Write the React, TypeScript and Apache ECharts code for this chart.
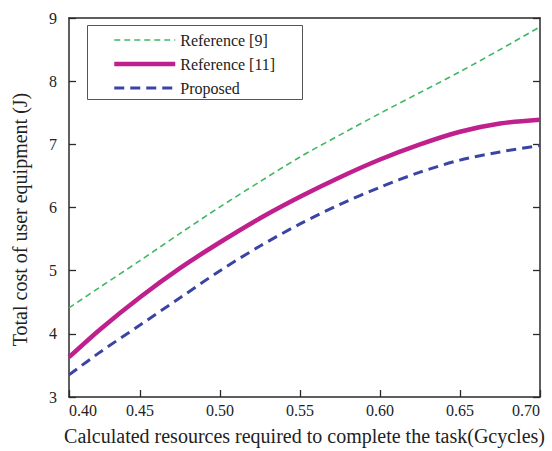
import React, { useEffect, useRef } from "react";
import * as echarts from "echarts";

// x positions (Gcycles); the axis starts slightly right of 0.40 in the source figure
const xMin = 0.4056;
const xValues = [0.4056, 0.425, 0.45, 0.475, 0.5, 0.525, 0.55, 0.575, 0.6, 0.625, 0.65, 0.675, 0.7];
const ref9 = [4.41, 4.74, 5.16, 5.59, 6.01, 6.41, 6.8, 7.15, 7.49, 7.82, 8.15, 8.5, 8.86];
const ref11 = [3.63, 4.07, 4.58, 5.04, 5.45, 5.83, 6.17, 6.48, 6.76, 7.0, 7.2, 7.33, 7.39];
const proposed = [3.35, 3.71, 4.14, 4.57, 5.0, 5.39, 5.74, 6.05, 6.32, 6.56, 6.75, 6.88, 6.98];
const seriesNames = ["Reference [9]", "Reference [11]", "Proposed"];
const xTickValues = [0.4056, 0.45, 0.5, 0.55, 0.6, 0.65, 0.7];
const xTickLabels = ["0.40", "0.45", "0.50", "0.55", "0.60", "0.65", "0.70"];
const xTitle = "Calculated resources required to complete the task(Gcycles)";
const yTitle = "Total cost of user equipment (J)";

const FONT = "Times New Roman, Liberation Serif, serif";
const colors = ["#3fb862", "#c01f8e", "#3a45a3"];
const widths = [1.6, 4.5, 3];
const dashes: any[] = [[6, 4], "solid", [10, 6]];

export default function App() {
  const ref = useRef<HTMLDivElement>(null);
  useEffect(() => {
    if (!ref.current) return;
    const chart = echarts.init(ref.current, undefined, { renderer: "svg" });
    const pair = (ys: number[]) => xValues.map((x, i) => [x, ys[i]]);
    const axisLine = { show: true, lineStyle: { color: "#2a2a2a", width: 1.5 } };
    const allData = [ref9, ref11, proposed];
    chart.setOption({
      animation: false,
      backgroundColor: "#ffffff",
      textStyle: { fontFamily: FONT },
      grid: { left: 69, right: 12, top: 18, bottom: 54, containLabel: false },
      graphic: [
        {
          type: "rect",
          z: 1,
          shape: { x: 87.5, y: 25.5, width: 215, height: 74 },
          style: { fill: "#fff", stroke: "#555", lineWidth: 1 },
        },
      ],
      legend: {
        orient: "vertical",
        left: 87,
        top: 25,
        z: 5,
        data: seriesNames.map((n, i) => ({
          name: n,
          itemStyle: { opacity: 0 },
          lineStyle: { color: colors[i], width: widths[i], type: dashes[i] },
        })),
        itemWidth: 61,
        itemHeight: 14,
        itemGap: 8,
        padding: [7, 0, 0, 25],
        textStyle: { fontFamily: FONT, fontSize: 16, color: "#222" },
      },
      xAxis: [
        {
          type: "value",
          min: xMin,
          max: 0.7,
          position: "bottom",
          axisLine,
          splitLine: { show: false },
          axisTick: { show: true, inside: true, length: 7, lineStyle: { color: "#2a2a2a", width: 1.3 }, customValues: xTickValues },
          axisLabel: {
            customValues: xTickValues,
            formatter: (v: number) => {
              const idx = xTickValues.findIndex((t) => Math.abs(t - v) < 1e-6);
              return idx >= 0 ? xTickLabels[idx] : "";
            },
            alignMinLabel: "left",
            alignMaxLabel: "right",
            margin: 5,
            fontFamily: FONT,
            fontSize: 16,
            color: "#222",
          },
          name: xTitle,
          nameLocation: "middle",
          nameGap: 29,
          nameTextStyle: { fontFamily: FONT, fontSize: 20, color: "#222" },
        },
        {
          type: "value",
          min: xMin,
          max: 0.7,
          position: "top",
          axisLine,
          axisTick: { show: false },
          axisLabel: { show: false },
          splitLine: { show: false },
        },
      ],
      yAxis: [
        {
          type: "value",
          min: 3,
          max: 9,
          interval: 1,
          position: "left",
          axisLine,
          splitLine: { show: false },
          axisTick: { show: true, inside: true, length: 7, lineStyle: { color: "#2a2a2a", width: 1.3 } },
          axisLabel: { margin: 12, fontFamily: FONT, fontSize: 16, color: "#222" },
          name: yTitle,
          nameLocation: "middle",
          nameGap: 39,
          nameTextStyle: { fontFamily: FONT, fontSize: 20, color: "#222", padding: [0, 24, 0, 0] },
        },
        {
          type: "value",
          min: 3,
          max: 9,
          interval: 1,
          position: "right",
          axisLine,
          splitLine: { show: false },
          axisTick: { show: true, inside: true, length: 7, lineStyle: { color: "#2a2a2a", width: 1.3 } },
          axisLabel: { show: false },
        },
      ],
      series: seriesNames.map((n, i) => ({
        name: n,
        type: "line",
        data: pair(allData[i]),
        symbol: "none",
        smooth: 0.3,
        lineStyle: { color: colors[i], width: widths[i], type: dashes[i] },
        itemStyle: { color: colors[i] },
      })),
    });
    return () => chart.dispose();
  }, []);
  return <div ref={ref} style={{ width: 552, height: 451, position: "absolute", left: 0, top: 0 }} />;
}
